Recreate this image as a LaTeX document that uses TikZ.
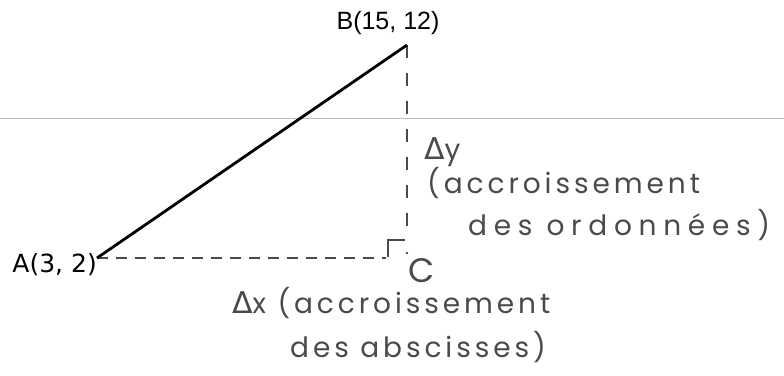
\documentclass[tikz,border=0pt]{standalone}
\usepackage{fontspec}
\setmainfont{Liberation Sans}
\newfontfamily\ptfont{DejaVu Sans}
\newfontfamily\hand[LetterSpace=14]{Poppins}
\newfontfamily\handwide[LetterSpace=24]{Poppins}
\newfontfamily\handgreek{DejaVu Sans}
\definecolor{ink}{HTML}{4A4A4A}
\definecolor{guide}{HTML}{BDBDBD}
\newcommand{\hdelta}{{\handgreek\fontsize{30}{30}\selectfont Δ}}
\tikzset{
  hw/.style={font=\hand\fontsize{28}{32}\selectfont, text=ink, inner sep=0pt, anchor=base west},
  ptlabel/.style={inner sep=0pt},
  dashline/.style={draw=ink, line width=1.6pt, dash pattern=on 11pt off 8pt},
  dashv/.style={draw=ink, line width=1.6pt, dash pattern=on 13pt off 15pt},
}
\begin{document}
\begin{tikzpicture}[x=1pt,y=-1pt]
\useasboundingbox (0,0) rectangle (784,375);
\draw[guide, line width=0.8pt] (0,118) -- (784,118);
\coordinate (A) at (97,258);
\coordinate (B) at (407,45);
\coordinate (H) at (386,258);
\draw[dashline] (A) -- (H);
\draw[dashv] (B) -- (407,240);
\draw[ink, line width=2.2pt] (388,257) -- (388,240) -- (405,240);
\fill[ink] (407,253) circle (1.3pt);
\draw[line width=2.8pt] (A) -- (B);
\node[ptlabel, anchor=east, font=\ptfont\fontsize{25}{28}\selectfont] (Alab) at (97,265) {A(3, 2)};
\node[ptlabel, font=\fontsize{25}{28}\selectfont] (Blab) at (388,23) {B(15, 12)};
\node[hw, font=\hand\fontsize{34}{36}\selectfont] (C) at (408,282) {C};
\node[hw] (dy) at (424,159) {\hdelta y};
\node[hw] (dy1) at (427,193) {(accroissement};
\node[hw, font=\handwide\fontsize{28}{32}\selectfont] (dy2) at (468,235) {des\hspace{14pt}ordonnées)};
\node[hw] (dx1) at (232,313) {\hdelta x (accroissement};
\node[hw] (dx2) at (290,357) {des abscisses)};
\end{tikzpicture}
\end{document}
